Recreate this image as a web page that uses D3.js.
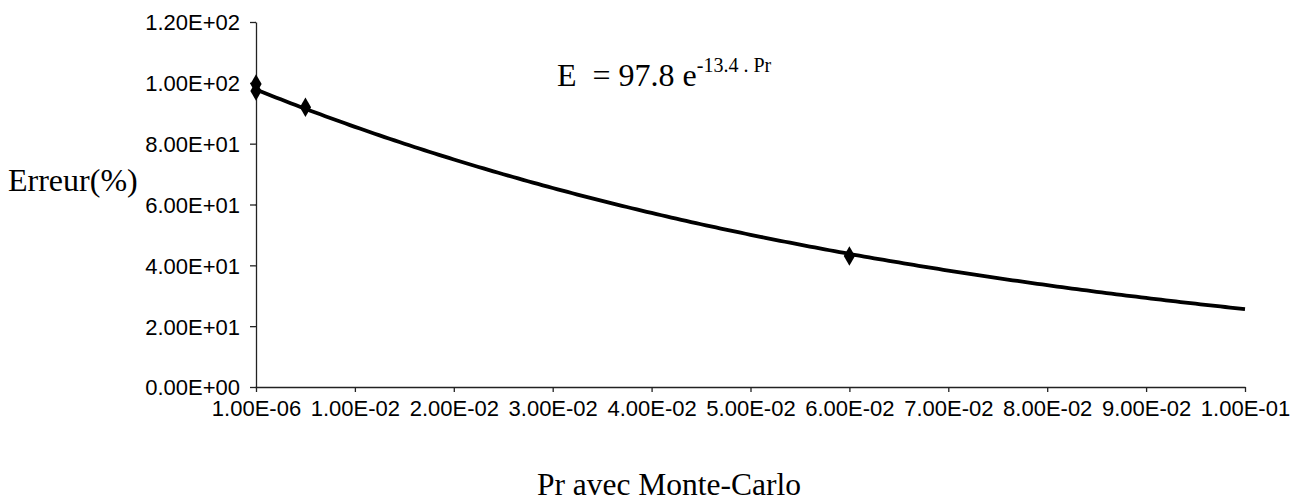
<!DOCTYPE html>
<html>
<head>
<meta charset="utf-8">
<script src="https://cdn.jsdelivr.net/npm/d3@7"></script>
<style>
  html, body { margin: 0; padding: 0; background: #fff; }
  svg { display: block; }
  .tick text { font-family: "Liberation Sans", Arial, sans-serif; font-size: 22px; fill: #000; }
  .serif { font-family: "Liberation Serif", "Times New Roman", serif; fill: #000; }
</style>
</head>
<body>
<svg id="chart" width="1303" height="502"></svg>
<script>
// Monte-Carlo measurements: probability Pr and the relative error (%)
const prValues = [0.000001, 0.000001, 0.005, 0.06];
const errorValues = [99.6, 97.3, 92.0, 43.1];

// Exponential trend fitted to the measurements: E = a * e^(b * Pr)
const trendA = 97.8;
const trendB = -13.4;

// Axis ticks
const xTickValues = [0.000001, 0.01, 0.02, 0.03, 0.04, 0.05, 0.06, 0.07, 0.08, 0.09, 0.1];
const xTickLabels = ["1.00E-06", "1.00E-02", "2.00E-02", "3.00E-02", "4.00E-02", "5.00E-02",
                     "6.00E-02", "7.00E-02", "8.00E-02", "9.00E-02", "1.00E-01"];
const yTickValues = [0, 20, 40, 60, 80, 100, 120];
const yTickLabels = ["0.00E+00", "2.00E+01", "4.00E+01", "6.00E+01", "8.00E+01", "1.00E+02", "1.20E+02"];

const svg = d3.select("#chart");

const x = d3.scaleLinear().domain([0.000001, 0.1]).range([256, 1245]);
const y = d3.scaleLinear().domain([0, 120]).range([387, 22]);

// Axes
const xAxis = d3.axisBottom(x)
  .tickValues(xTickValues)
  .tickFormat((d, i) => xTickLabels[i])
  .tickSize(5).tickSizeOuter(0).tickPadding(8);
const yAxis = d3.axisLeft(y)
  .tickValues(yTickValues)
  .tickFormat((d, i) => yTickLabels[i])
  .tickSize(6).tickSizeOuter(0).tickPadding(10);

const gx = svg.append("g").attr("transform", `translate(0,${y(0)})`).call(xAxis);
const gy = svg.append("g").attr("transform", `translate(${x(0.000001)},0)`).call(yAxis);
[gx, gy].forEach(g => {
  g.select(".domain").attr("stroke", "#222").attr("stroke-width", 1.3);
  g.selectAll(".tick line").attr("stroke", "#222").attr("stroke-width", 1.3);
});
gy.selectAll(".tick text").attr("dy", "0.36em");

// Trend curve sampled along Pr
const samples = d3.range(0, 201).map(i => {
  const pr = 0.000001 + (0.1 - 0.000001) * i / 200;
  return [pr, trendA * Math.exp(trendB * pr)];
});
svg.append("path")
  .datum(samples)
  .attr("fill", "none")
  .attr("stroke", "#000")
  .attr("stroke-width", 3.8)
  .attr("stroke-linejoin", "round")
  .attr("d", d3.line().x(d => x(d[0])).y(d => y(d[1])));

// Measured points as diamonds
const diamond = d3.symbol().type(d3.symbolDiamond).size(110);
svg.append("g").selectAll("path")
  .data(prValues.map((p, i) => [p, errorValues[i]]))
  .join("path")
  .attr("d", diamond)
  .attr("transform", d => `translate(${x(d[0])},${y(d[1])})`)
  .attr("fill", "#000");

// Axis titles
svg.append("text").attr("class", "serif")
  .attr("x", 8).attr("y", 191)
  .attr("font-size", 32)
  .text("Erreur(%)");

svg.append("text").attr("class", "serif")
  .attr("x", 669).attr("y", 495)
  .attr("text-anchor", "middle")
  .attr("font-size", 31.5)
  .text("Pr avec Monte-Carlo");

// Trend equation
const eq = svg.append("text").attr("class", "serif")
  .attr("x", 557).attr("y", 86)
  .attr("font-size", 32)
  .attr("xml:space", "preserve")
  .style("white-space", "pre");
eq.append("tspan").text("E  = 97.8 e");
eq.append("tspan").attr("font-size", 20).attr("dy", -14).text("-13.4 . Pr");
</script>
</body>
</html>
